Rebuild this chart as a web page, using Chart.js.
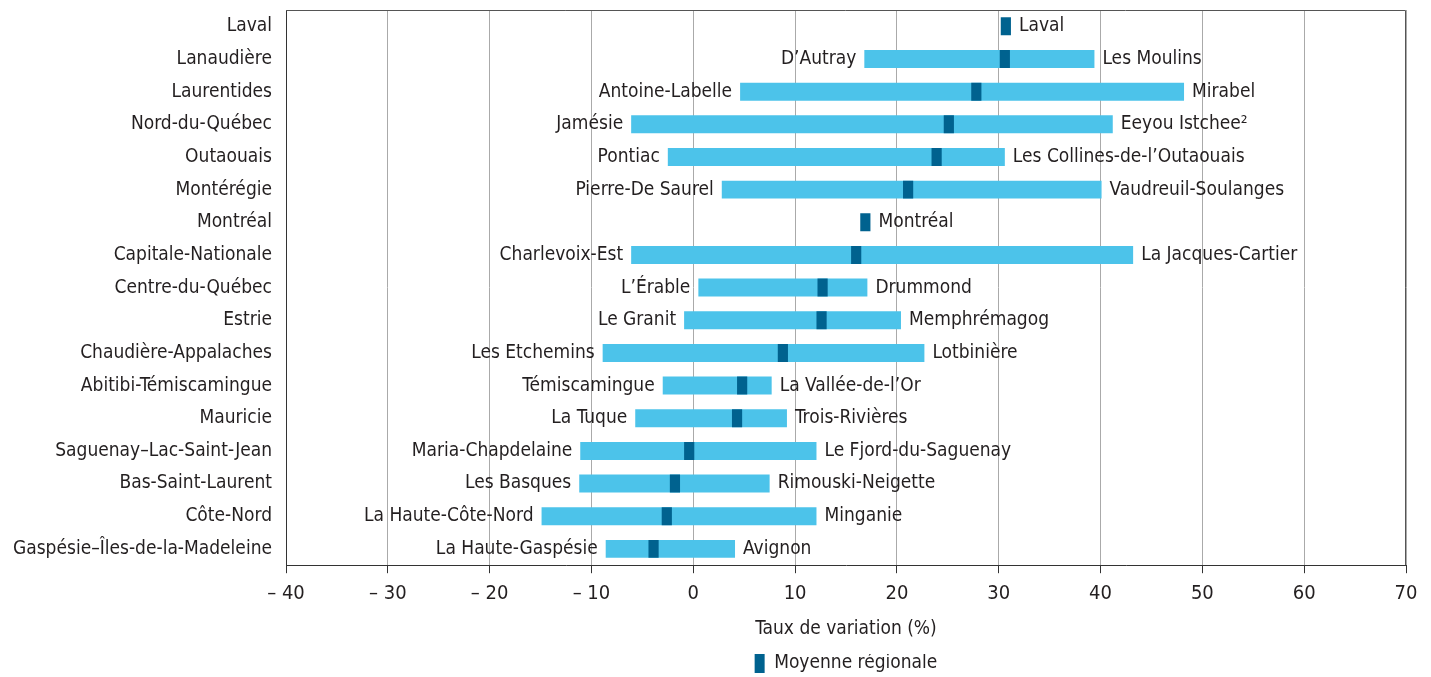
<!DOCTYPE html>
<html>
<head>
<meta charset="utf-8">
<script src="https://cdn.jsdelivr.net/npm/chart.js@4/dist/chart.umd.min.js"></script>
<style>
  body { margin: 0; background: #fff; }
  #wrap { width: 1431px; height: 677px; }
</style>
</head>
<body>
<div id="wrap"><canvas id="chart"></canvas></div>
<script>
// regions (top to bottom)
const regions = ['Laval', 'Lanaudière', 'Laurentides', 'Nord-du-Québec', 'Outaouais', 'Montérégie', 'Montréal',
  'Capitale-Nationale', 'Centre-du-Québec', 'Estrie', 'Chaudière-Appalaches', 'Abitibi-Témiscamingue', 'Mauricie',
  'Saguenay–Lac-Saint-Jean', 'Bas-Saint-Laurent', 'Côte-Nord', 'Gaspésie–Îles-de-la-Madeleine'];

// MRC with the lowest / highest rate in each region
const minNames = [null, 'D’Autray', 'Antoine-Labelle', 'Jamésie', 'Pontiac', 'Pierre-De Saurel', null,
  'Charlevoix-Est', 'L’Érable', 'Le Granit', 'Les Etchemins', 'Témiscamingue', 'La Tuque',
  'Maria-Chapdelaine', 'Les Basques', 'La Haute-Côte-Nord', 'La Haute-Gaspésie'];
const maxNames = ['Laval', 'Les Moulins', 'Mirabel', 'Eeyou Istchee²', 'Les Collines-de-l’Outaouais', 'Vaudreuil-Soulanges', 'Montréal',
  'La Jacques-Cartier', 'Drummond', 'Memphrémagog', 'Lotbinière', 'La Vallée-de-l’Or', 'Trois-Rivières',
  'Le Fjord-du-Saguenay', 'Rimouski-Neigette', 'Minganie', 'Avignon'];

const minVals = [null, 16.8, 4.6, -6.1, -2.5, 2.8, null, -6.1, 0.5, -0.9, -8.9, -3.0, -5.7, -11.1, -11.2, -14.9, -8.6];
const maxVals = [null, 39.4, 48.2, 41.2, 30.6, 40.1, null, 43.2, 17.1, 20.4, 22.7, 7.7, 9.2, 12.1, 7.5, 12.1, 4.1];
const avgVals = [30.7, 30.6, 27.8, 25.1, 23.9, 21.1, 16.9, 16.0, 12.7, 12.6, 8.8, 4.8, 4.3, -0.4, -1.8, -2.6, -3.9];

const xTicks = [-40, -30, -20, -10, 0, 10, 20, 30, 40, 50, 60, 70];

const FONT = '"Liberation Sans Narrow", "DejaVu Sans Condensed", "Roboto Condensed", sans-serif';
const LIGHT = '#4cc3ea';
const DARK = '#00628f';

const rangeData = regions.map((r, i) => minVals[i] == null ? null : [minVals[i], maxVals[i]]);
const avgData = avgVals.map(v => [v - 0.5, v + 0.5]);

const endLabels = {
  id: 'endLabels',
  afterDatasetsDraw(chart) {
    const ctx = chart.ctx;
    const x = chart.scales.x, y = chart.scales.y;
    ctx.save();
    ctx.font = '19px ' + FONT;
    ctx.fillStyle = '#231f20';
    ctx.textBaseline = 'middle';
    regions.forEach((r, i) => {
      const py = y.getPixelForValue(i);
      if (minNames[i]) {
        ctx.textAlign = 'right';
        ctx.fillText(minNames[i], x.getPixelForValue(minVals[i]) - 8, py);
      }
      const right = maxVals[i] != null ? maxVals[i] : avgVals[i] + 0.5;
      ctx.textAlign = 'left';
      ctx.fillText(maxNames[i], x.getPixelForValue(right) + 8, py);
    });
    // frame top and right
    const a = chart.chartArea;
    ctx.strokeStyle = '#555';
    ctx.lineWidth = 1;
    ctx.beginPath();
    ctx.moveTo(a.left, a.top + 0.5);
    ctx.lineTo(a.right - 0.5, a.top + 0.5);
    ctx.lineTo(a.right - 0.5, a.bottom);
    ctx.stroke();
    ctx.restore();
  }
};

const ctx = document.getElementById('chart').getContext('2d');
new Chart(ctx, {
  type: 'bar',
  data: {
    labels: regions,
    datasets: [{
      label: 'Étendue',
      data: rangeData,
      backgroundColor: LIGHT,
      barPercentage: 0.55,
      categoryPercentage: 1,
      grouped: false,
      order: 2
    }, {
      label: 'Moyenne régionale',
      data: avgData,
      backgroundColor: DARK,
      barPercentage: 0.55,
      categoryPercentage: 1,
      grouped: false,
      order: 1
    }]
  },
  options: {
    indexAxis: 'y',
    responsive: true,
    maintainAspectRatio: false,
    animation: false,
    layout: { padding: { top: 10, right: 25, bottom: -6, left: 0 } },
    plugins: {
      tooltip: { enabled: false },
      legend: {
        position: 'bottom',
        fullSize: false,
        labels: {
          filter: item => item.datasetIndex === 1,
          boxWidth: 10,
          boxHeight: 19,
          color: '#231f20',
          font: { family: FONT, size: 19 },
          padding: 0
        }
      }
    },
    scales: {
      x: {
        type: 'linear',
        min: -40,
        max: 70,
        afterBuildTicks: scale => { scale.ticks = xTicks.map(v => ({ value: v })); },
        ticks: {
          color: '#231f20',
          font: { family: FONT, size: 20 },
          padding: 9,
          callback: v => v < 0 ? '– ' + Math.abs(v) : String(v)
        },
        grid: { color: '#aaa', tickColor: '#333', tickLength: 8 },
        border: { color: '#333' },
        title: {
          display: true,
          text: 'Taux de variation (%)',
          color: '#231f20',
          font: { family: FONT, size: 19 },
          padding: { top: 2, bottom: 14 }
        }
      },
      y: {
        type: 'category',
        afterFit: scale => {
          scale.width = 286;
          scale.paddingTop = 0;
          scale.paddingBottom = 0;
        },
        ticks: {
          autoSkip: false,
          color: '#231f20',
          font: { family: FONT, size: 19 },
          padding: 14
        },
        grid: { drawOnChartArea: false, drawTicks: false },
        border: { color: '#333' }
      }
    }
  },
  plugins: [endLabels]
});
</script>
</body>
</html>
